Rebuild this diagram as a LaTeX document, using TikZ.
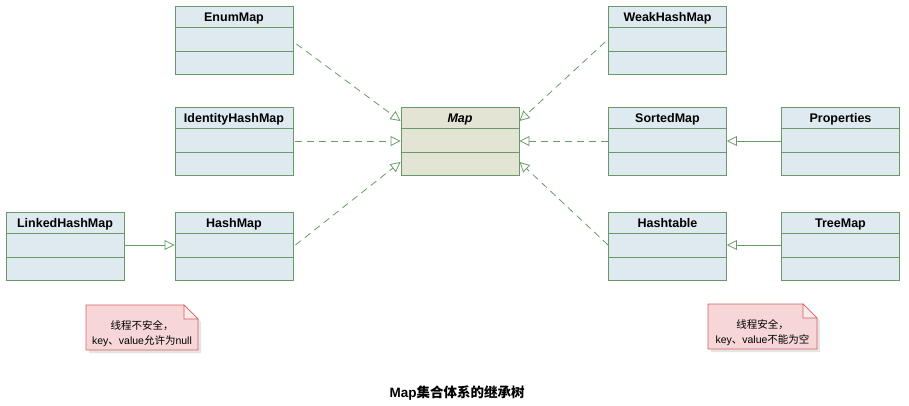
\documentclass[tikz,border=0pt]{standalone}
\usepackage{fontspec}
\setmainfont{Liberation Sans}
\newfontfamily\cjk{Noto Sans CJK SC}
\usetikzlibrary{arrows.meta,calc}
\definecolor{lineG}{RGB}{104,154,104}
\definecolor{boxB}{RGB}{222,234,239}
\definecolor{mapB}{RGB}{228,228,212}
\definecolor{noteF}{RGB}{246,214,214}
\definecolor{noteD}{RGB}{214,96,96}
\definecolor{foldF}{RGB}{251,235,235}
\newcommand{\classbox}[4]{%
  \node[clsbox, fill=#4] (#1) at (#2) {};
  \draw[lineG, line width=0.8pt] ([yshift=-22pt]#1.north west) -- ([yshift=-22pt]#1.north east);
  \draw[lineG, line width=0.8pt] ([yshift=-46pt]#1.north west) -- ([yshift=-46pt]#1.north east);
  \node[clstitle, anchor=base] (#1-t) at ([yshift=-16pt]#1.north) {#3};
}
\begin{document}
\begin{tikzpicture}[x=1pt,y=-1pt,
  clsbox/.style={draw=lineG, line width=0.9pt, minimum width=118pt, minimum height=68pt, inner sep=0pt},
  clstitle/.style={font=\bfseries\fontsize{12.5}{14}\selectfont, inner sep=0pt},
  realize/.style={draw=lineG, line width=0.8pt, dash pattern=on 7pt off 5pt, -{Triangle[open, length=10pt, width=10pt, line width=0.8pt]}},
  inherit/.style={draw=lineG, line width=0.8pt, -{Triangle[open, length=10pt, width=10pt, line width=0.8pt]}},
  notetext/.style={font=\fontsize{10.5}{15}\selectfont, align=center, inner sep=0pt}]
\useasboundingbox (0,0) rectangle (909,405);

\classbox{enum}{234,40}{EnumMap}{boxB}
\classbox{ident}{234,141}{IdentityHashMap}{boxB}
\classbox{hash}{234,246}{HashMap}{boxB}
\classbox{linked}{65,246}{LinkedHashMap}{boxB}
\classbox{map}{460,141}{\itshape Map}{mapB}
\classbox{weak}{667.5,40}{WeakHashMap}{boxB}
\classbox{sorted}{667.5,141}{SortedMap}{boxB}
\classbox{htable}{667.5,246}{Hashtable}{boxB}
\classbox{props}{840.5,141}{Properties}{boxB}
\classbox{tree}{840.5,246}{TreeMap}{boxB}

% realization (dashed) connectors
\draw[realize] ([xshift=3pt,yshift=-4pt]enum.east) -- ([yshift=20pt]map.west);
\draw[realize] ([xshift=2pt]ident.east) -- (map.west);
\draw[realize] ([xshift=2pt,yshift=1pt]hash.east) -- ([yshift=-21pt]map.west);
\draw[realize] ([xshift=-3pt,yshift=-2pt]weak.west) -- ([yshift=20pt]map.east);
\draw[realize] (sorted.west) -- (map.east);
\draw[realize] ([yshift=1pt]htable.west) -- ([yshift=-21pt]map.east);

% inheritance (solid) connectors
\draw[inherit] ([yshift=1pt]linked.east) -- ([yshift=1pt]hash.west);
\draw[inherit] (props.west) -- (sorted.east);
\draw[inherit] ([yshift=1pt]tree.west) -- ([yshift=1pt]htable.east);

% notes
\fill[black!20, opacity=0.5] (89,308) -- (187,308) -- (201,322) -- (201,353) -- (89,353) -- cycle;
\draw[noteD, line width=0.8pt, fill=noteF] (86,305) -- (184,305) -- (198,319) -- (198,350) -- (86,350) -- cycle;
\draw[noteD, line width=0.6pt, fill=foldF] (184,305) -- (184,319) -- (198,319) -- cycle;
\node[notetext] (noteL) at (142,334) {{\cjk 线程不安全，}\\key{\cjk 、}value{\cjk 允许为}null};

\fill[black!20, opacity=0.5] (711,307) -- (806,307) -- (820,321) -- (820,352) -- (711,352) -- cycle;
\draw[noteD, line width=0.8pt, fill=noteF] (708,304) -- (803,304) -- (817,318) -- (817,349) -- (708,349) -- cycle;
\draw[noteD, line width=0.6pt, fill=foldF] (803,304) -- (803,318) -- (817,318) -- cycle;
\node[notetext] (noteR) at (762.5,333) {{\cjk 线程安全，}\\key{\cjk 、}value{\cjk 不能为空}};

% title
\node[font=\bfseries\fontsize{13.5}{16}\selectfont, inner sep=0pt] (title) at (457,393) {Map{\cjk\bfseries 集合体系的继承树}};
\end{tikzpicture}
\end{document}
